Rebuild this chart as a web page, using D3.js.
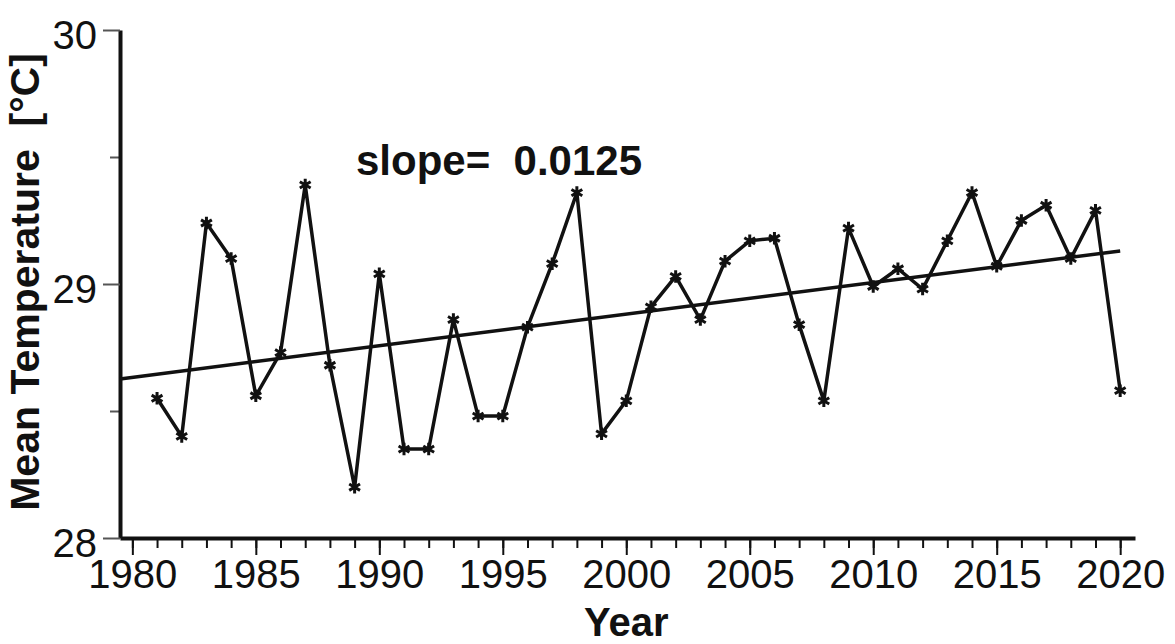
<!DOCTYPE html>
<html>
<head>
<meta charset="utf-8">
<script src="https://cdn.jsdelivr.net/npm/d3@7"></script>
<style>
  body { margin: 0; background: #fff; }
  text { font-family: "Liberation Sans", Arial, Helvetica, sans-serif; fill: #111; }
</style>
</head>
<body>
<div id="chart"></div>
<script>
// Annual mean temperature
const years = [1981, 1982, 1983, 1984, 1985, 1986, 1987, 1988, 1989, 1990,
    1991, 1992, 1993, 1994, 1995, 1996, 1997, 1998, 1999, 2000,
    2001, 2002, 2003, 2004, 2005, 2006, 2007, 2008, 2009, 2010,
    2011, 2012, 2013, 2014, 2015, 2016, 2017, 2018, 2019, 2020];
const temps = [28.55, 28.40, 29.24, 29.10, 28.56, 28.73, 29.39, 28.68, 28.20, 29.04,
    28.35, 28.35, 28.86, 28.48, 28.48, 28.83, 29.08, 29.36, 28.41, 28.54,
    28.91, 29.03, 28.86, 29.09, 29.17, 29.18, 28.84, 28.54, 29.22, 28.99,
    29.06, 28.98, 29.17, 29.36, 29.07, 29.25, 29.31, 29.10, 29.29, 28.58];

// linear trend endpoints
const trendYears = [1979.5, 2020];
const trendTemps = [28.626, 29.13];
const slopeLabel = 'slope=  0.0125';

const majorYTicks = [28, 29, 30];
const minorYTicks = [28.5, 29.5];
const majorXTicks = [1980, 1985, 1990, 1995, 2000, 2005, 2010, 2015, 2020];
const minorXTicks = d3.range(1980, 2021);

const width = 1175;
const height = 644;

const svg = d3.select('#chart').append('svg')
    .attr('width', width)
    .attr('height', height);

const x = d3.scaleLinear().domain([1979.5, 2020.6]).range([120, 1135]);
const y = d3.scaleLinear().domain([28, 30]).range([538, 30]);

// minor x ticks
svg.append('g')
    .attr('transform', `translate(0,${y(28)})`)
    .call(d3.axisBottom(x).tickValues(minorXTicks).tickSize(10).tickFormat(''))
    .call(g => g.select('.domain').remove())
    .call(g => g.selectAll('line').attr('stroke', '#111').attr('stroke-width', 2));

// major x ticks + labels
svg.append('g')
    .attr('transform', `translate(0,${y(28)})`)
    .call(d3.axisBottom(x).tickValues(majorXTicks).tickSize(17).tickSizeOuter(0)
        .tickPadding(5).tickFormat(d3.format('d')))
    .call(g => g.select('.domain').attr('stroke', '#111').attr('stroke-width', 4))
    .call(g => g.selectAll('line').attr('stroke', '#111').attr('stroke-width', 2))
    .call(g => g.selectAll('text').attr('font-size', 40).attr('fill', '#111'));

// minor y ticks
svg.append('g')
    .attr('transform', `translate(${x(1979.5)},0)`)
    .call(d3.axisLeft(y).tickValues(minorYTicks).tickSize(10).tickFormat(''))
    .call(g => g.select('.domain').remove())
    .call(g => g.selectAll('line').attr('stroke', '#555').attr('stroke-width', 2));

// major y ticks + labels
svg.append('g')
    .attr('transform', `translate(${x(1979.5)},0)`)
    .call(d3.axisLeft(y).tickValues(majorYTicks).tickSize(17).tickSizeOuter(0)
        .tickPadding(6).tickFormat(d3.format('d')))
    .call(g => g.select('.domain').attr('stroke', '#111').attr('stroke-width', 4))
    .call(g => g.selectAll('line').attr('stroke', '#555').attr('stroke-width', 2))
    .call(g => g.selectAll('text').attr('font-size', 40).attr('dy', '0.45em').attr('fill', '#111'));

// axis titles
svg.append('text')
    .attr('x', x(2000))
    .attr('y', 636)
    .attr('text-anchor', 'middle')
    .attr('font-size', 40)
    .attr('font-weight', 'bold')
    .text('Year');

svg.append('text')
    .attr('transform', 'translate(39,282) rotate(-90)')
    .attr('text-anchor', 'middle')
    .attr('font-size', 41)
    .attr('font-weight', 'bold')
    .style('white-space', 'pre')
    .text('Mean Temperature  [°C]');

// trend line
const trend = trendYears.map((yr, i) => ({ year: yr, value: trendTemps[i] }));
svg.append('path')
    .datum(trend)
    .attr('fill', 'none')
    .attr('stroke', '#111')
    .attr('stroke-width', 3.5)
    .attr('d', d3.line().x(d => x(d.year)).y(d => y(d.value)));

// data line
const series = years.map((yr, i) => ({ year: yr, value: temps[i] }));
svg.append('path')
    .datum(series)
    .attr('fill', 'none')
    .attr('stroke', '#111')
    .attr('stroke-width', 3.5)
    .attr('stroke-linejoin', 'miter')
    .attr('d', d3.line().x(d => x(d.year)).y(d => y(d.value)));

// star markers
svg.selectAll('.marker')
    .data(series)
    .enter().append('path')
    .attr('class', 'marker')
    .attr('transform', d => `translate(${x(d.year)},${y(d.value)})`)
    .attr('d', d3.symbol().type(d3.symbolAsterisk).size(110))
    .attr('fill', 'none')
    .attr('stroke', '#111')
    .attr('stroke-width', 3);

// slope annotation
svg.append('text')
    .attr('x', 356)
    .attr('y', 175)
    .attr('font-size', 42)
    .attr('font-weight', 'bold')
    .style('white-space', 'pre')
    .text(slopeLabel);
</script>
</body>
</html>
